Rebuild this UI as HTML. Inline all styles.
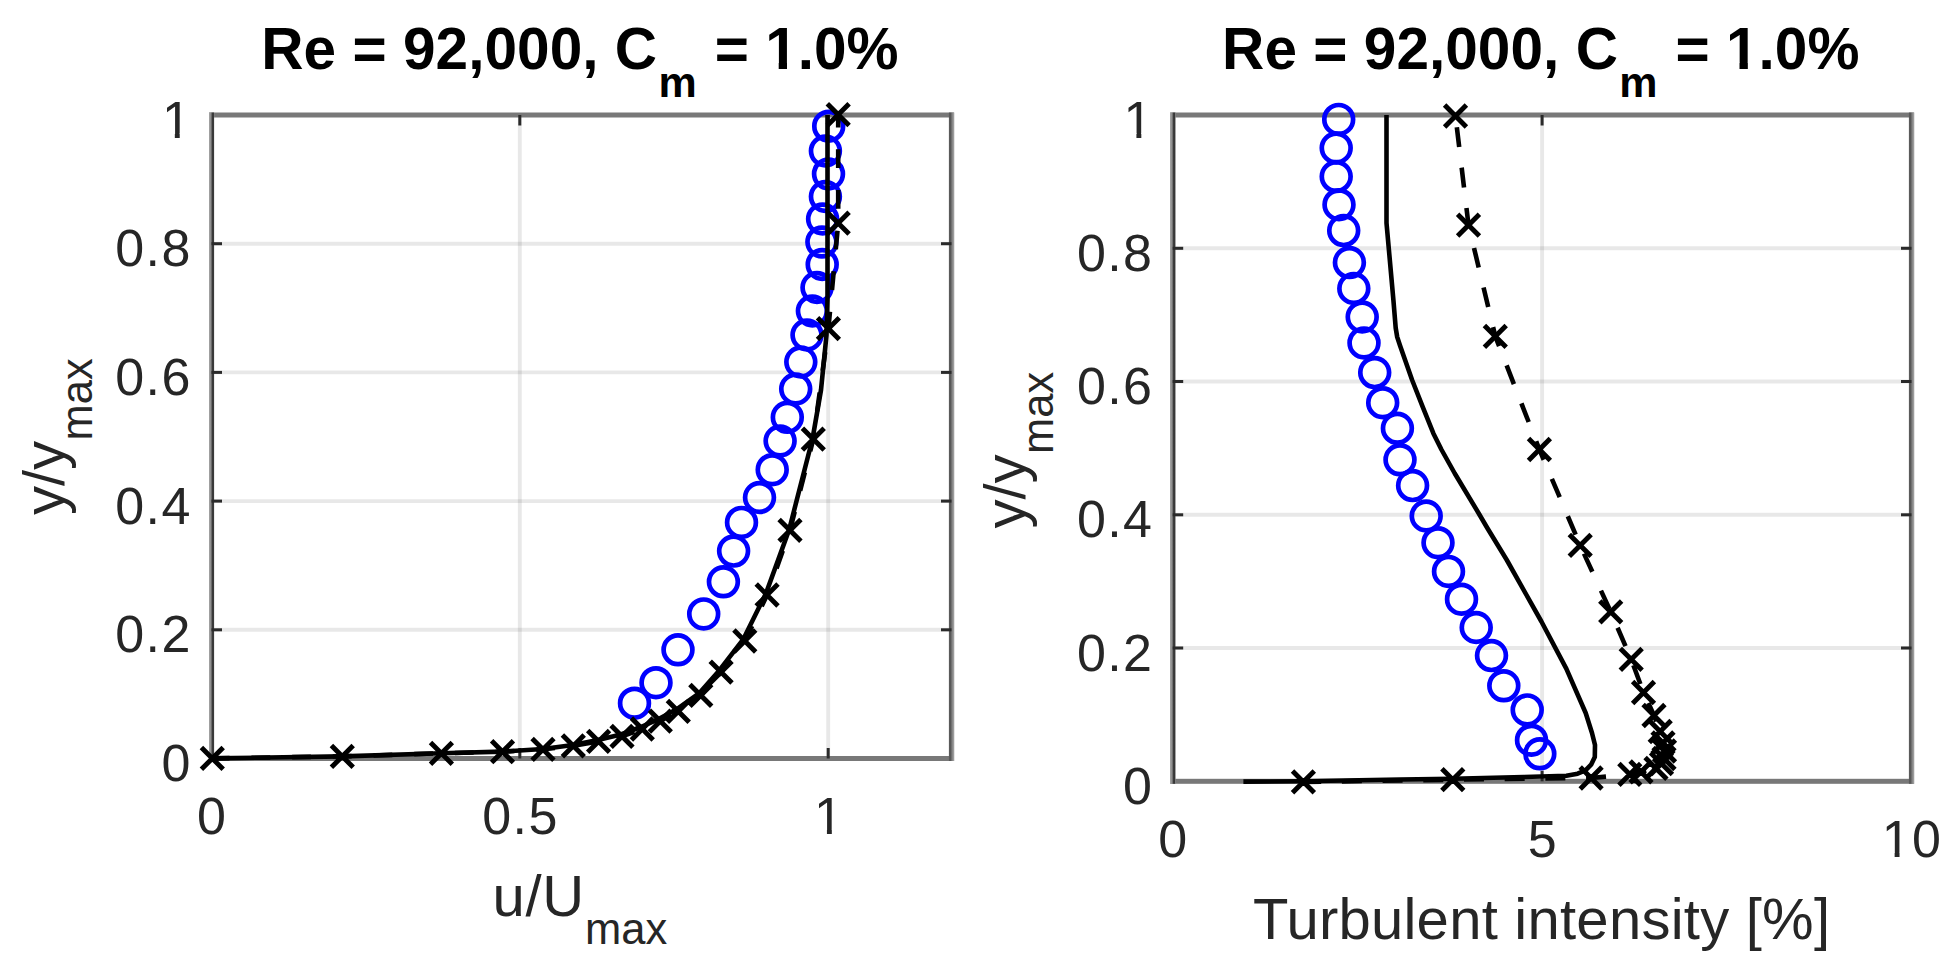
<!DOCTYPE html>
<html lang="en"><head><meta charset="utf-8"><title>Re = 92,000, Cm = 1.0%</title>
<style>html,body{margin:0;padding:0;background:#fff;overflow:hidden}svg{display:block}text{font-family:"Liberation Sans",Arial,Helvetica,sans-serif}.t{fill:#262626;font-size:52px}.l{fill:#262626;font-size:58px}.s{fill:#262626;font-size:43.5px}.h{fill:#000;font-weight:bold;font-size:58.5px}.hs{fill:#000;font-weight:bold;font-size:43px}</style></head><body>
<svg width="1957" height="974" viewBox="0 0 1957 974">
<rect width="1957" height="974" fill="#fff"/>
<defs><linearGradient id="gl" x1="0" y1="0" x2="1" y2="0"><stop offset="0" stop-color="#a6a6a6"/><stop offset="0.3" stop-color="#909090"/><stop offset="0.5" stop-color="#666"/><stop offset="0.62" stop-color="#3a3a3a"/><stop offset="0.86" stop-color="#363636"/><stop offset="1" stop-color="#9a9a9a"/></linearGradient><linearGradient id="gr" x1="0" y1="0" x2="1" y2="0"><stop offset="0" stop-color="#5a5a5a"/><stop offset="0.3" stop-color="#585858"/><stop offset="0.55" stop-color="#7a7a7a"/><stop offset="0.78" stop-color="#969696"/><stop offset="1" stop-color="#a8a8a8"/></linearGradient><clipPath id="c1"><path d="M-6 -70H50V-4.23H17.82V4H12.93V-4.23H-6Z"/></clipPath><clipPath id="c1b"><path d="M-6 -80H60V-6.32H21.83V4H13.50V-6.32H-6Z"/></clipPath></defs>
<g id="left">
<line x1="519.8" y1="115.0" x2="519.8" y2="758.5" stroke="#000" stroke-opacity="0.09" stroke-width="3.9"/>
<line x1="828.2" y1="115.0" x2="828.2" y2="758.5" stroke="#000" stroke-opacity="0.09" stroke-width="3.9"/>
<line x1="211.5" y1="629.8" x2="951.5" y2="629.8" stroke="#000" stroke-opacity="0.09" stroke-width="3.9"/>
<line x1="211.5" y1="501.1" x2="951.5" y2="501.1" stroke="#000" stroke-opacity="0.09" stroke-width="3.9"/>
<line x1="211.5" y1="372.4" x2="951.5" y2="372.4" stroke="#000" stroke-opacity="0.09" stroke-width="3.9"/>
<line x1="211.5" y1="243.7" x2="951.5" y2="243.7" stroke="#000" stroke-opacity="0.09" stroke-width="3.9"/>
<rect x="209.0" y="112.5" width="745.0" height="5" fill="#787878"/>
<rect x="209.0" y="756.0" width="745.0" height="5" fill="#787878"/>
<rect x="209.0" y="112.5" width="5.2" height="648.5" fill="url(#gl)"/>
<rect x="948.9" y="112.5" width="5.4" height="648.5" fill="url(#gr)"/>
<line x1="519.8" y1="758.5" x2="519.8" y2="748.0" stroke="#2a2a2a" stroke-width="3.0"/>
<line x1="519.8" y1="115.0" x2="519.8" y2="125.5" stroke="#2a2a2a" stroke-width="3.0"/>
<line x1="828.2" y1="758.5" x2="828.2" y2="748.0" stroke="#2a2a2a" stroke-width="3.0"/>
<line x1="828.2" y1="115.0" x2="828.2" y2="125.5" stroke="#2a2a2a" stroke-width="3.0"/>
<line x1="211.5" y1="629.8" x2="222.0" y2="629.8" stroke="#2a2a2a" stroke-width="3.0"/>
<line x1="951.5" y1="629.8" x2="941.0" y2="629.8" stroke="#2a2a2a" stroke-width="3.0"/>
<line x1="211.5" y1="501.1" x2="222.0" y2="501.1" stroke="#2a2a2a" stroke-width="3.0"/>
<line x1="951.5" y1="501.1" x2="941.0" y2="501.1" stroke="#2a2a2a" stroke-width="3.0"/>
<line x1="211.5" y1="372.4" x2="222.0" y2="372.4" stroke="#2a2a2a" stroke-width="3.0"/>
<line x1="951.5" y1="372.4" x2="941.0" y2="372.4" stroke="#2a2a2a" stroke-width="3.0"/>
<line x1="211.5" y1="243.7" x2="222.0" y2="243.7" stroke="#2a2a2a" stroke-width="3.0"/>
<line x1="951.5" y1="243.7" x2="941.0" y2="243.7" stroke="#2a2a2a" stroke-width="3.0"/>
<g fill="none" stroke="#0000ff" stroke-width="4.7">
<circle cx="828.7" cy="126.2" r="14.4"/>
<circle cx="825.4" cy="151.0" r="14.4"/>
<circle cx="828.5" cy="173.9" r="14.4"/>
<circle cx="825.4" cy="196.5" r="14.4"/>
<circle cx="822.6" cy="219.0" r="14.4"/>
<circle cx="821.9" cy="242.0" r="14.4"/>
<circle cx="822.2" cy="264.5" r="14.4"/>
<circle cx="817.0" cy="287.5" r="14.4"/>
<circle cx="812.4" cy="311.0" r="14.4"/>
<circle cx="807.0" cy="335.0" r="14.4"/>
<circle cx="800.8" cy="362.0" r="14.4"/>
<circle cx="795.7" cy="389.0" r="14.4"/>
<circle cx="787.3" cy="417.3" r="14.4"/>
<circle cx="780.1" cy="441.0" r="14.4"/>
<circle cx="772.2" cy="469.7" r="14.4"/>
<circle cx="759.5" cy="497.5" r="14.4"/>
<circle cx="741.5" cy="522.4" r="14.4"/>
<circle cx="733.6" cy="551.1" r="14.4"/>
<circle cx="723.4" cy="581.8" r="14.4"/>
<circle cx="703.7" cy="613.9" r="14.4"/>
<circle cx="678.0" cy="649.8" r="14.4"/>
<circle cx="656.0" cy="682.7" r="14.4"/>
<circle cx="634.5" cy="703.2" r="14.4"/>
</g>
<path d="M827.5 115.0L827.5 300.0L826.5 335.0L821.0 390.0L812.6 438.5L789.2 529.5L765.9 593.6L743.2 639.4L719.3 670.4L699.0 693.4L676.6 709.3L658.7 719.1L640.9 727.0L620.9 734.5L597.9 739.9L573.0 745.0L543.0 749.0L502.5 751.6L441.4 753.3L342.3 756.4L212.3 758.4" fill="none" stroke="#000" stroke-width="4.6" stroke-linejoin="round"/>
<path d="M838.2 114.7L838.2 223.2L828.4 328.6L813.3 439.2L790.0 530.3L767.1 595.0L744.8 641.0L721.1 672.2L700.8 695.4L678.3 711.3L660.3 721.1L642.3 729.0L622.0 736.3L598.6 741.3L573.3 745.8L543.0 749.3L502.5 751.7L441.4 753.3L342.3 756.4L212.3 758.4" fill="none" stroke="#000" stroke-width="4.6" stroke-dasharray="18.8 21.9" stroke-dashoffset="6.1" stroke-linejoin="round"/>
<path d="M827.3 103.8L849.1 125.6M827.3 125.6L849.1 103.8M827.3 212.3L849.1 234.1M827.3 234.1L849.1 212.3M817.5 317.7L839.3 339.5M817.5 339.5L839.3 317.7M802.4 428.3L824.2 450.1M802.4 450.1L824.2 428.3M779.1 519.4L800.9 541.2M779.1 541.2L800.9 519.4M756.2 584.1L778.0 605.9M756.2 605.9L778.0 584.1M733.9 630.1L755.7 651.9M733.9 651.9L755.7 630.1M710.2 661.3L732.0 683.1M710.2 683.1L732.0 661.3M689.9 684.5L711.7 706.3M689.9 706.3L711.7 684.5M667.4 700.4L689.2 722.2M667.4 722.2L689.2 700.4M649.4 710.2L671.2 732.0M649.4 732.0L671.2 710.2M631.4 718.1L653.2 739.9M631.4 739.9L653.2 718.1M611.1 725.4L632.9 747.2M611.1 747.2L632.9 725.4M587.7 730.4L609.5 752.2M587.7 752.2L609.5 730.4M562.4 734.9L584.2 756.7M562.4 756.7L584.2 734.9M532.1 738.4L553.9 760.2M532.1 760.2L553.9 738.4M491.6 740.8L513.4 762.6M491.6 762.6L513.4 740.8M430.5 742.4L452.3 764.2M430.5 764.2L452.3 742.4M331.4 745.5L353.2 767.3M331.4 767.3L353.2 745.5M201.4 747.5L223.2 769.3M201.4 769.3L223.2 747.5" fill="none" stroke="#000" stroke-width="4.9"/>
</g>
<g id="right">
<line x1="1542.1" y1="115.0" x2="1542.1" y2="781.3" stroke="#000" stroke-opacity="0.09" stroke-width="3.9"/>
<line x1="1172.7" y1="648.0" x2="1911.5" y2="648.0" stroke="#000" stroke-opacity="0.09" stroke-width="3.9"/>
<line x1="1172.7" y1="514.8" x2="1911.5" y2="514.8" stroke="#000" stroke-opacity="0.09" stroke-width="3.9"/>
<line x1="1172.7" y1="381.5" x2="1911.5" y2="381.5" stroke="#000" stroke-opacity="0.09" stroke-width="3.9"/>
<line x1="1172.7" y1="248.3" x2="1911.5" y2="248.3" stroke="#000" stroke-opacity="0.09" stroke-width="3.9"/>
<rect x="1170.2" y="112.5" width="743.8" height="5" fill="#787878"/>
<rect x="1170.2" y="778.8" width="743.8" height="5" fill="#787878"/>
<rect x="1170.0" y="112.5" width="5.7" height="671.3" fill="url(#gl)"/>
<rect x="1908.9" y="112.5" width="5.4" height="671.3" fill="url(#gr)"/>
<line x1="1542.1" y1="781.3" x2="1542.1" y2="770.8" stroke="#2a2a2a" stroke-width="3.0"/>
<line x1="1542.1" y1="115.0" x2="1542.1" y2="125.5" stroke="#2a2a2a" stroke-width="3.0"/>
<line x1="1172.7" y1="648.0" x2="1183.2" y2="648.0" stroke="#2a2a2a" stroke-width="3.0"/>
<line x1="1911.5" y1="648.0" x2="1901.0" y2="648.0" stroke="#2a2a2a" stroke-width="3.0"/>
<line x1="1172.7" y1="514.8" x2="1183.2" y2="514.8" stroke="#2a2a2a" stroke-width="3.0"/>
<line x1="1911.5" y1="514.8" x2="1901.0" y2="514.8" stroke="#2a2a2a" stroke-width="3.0"/>
<line x1="1172.7" y1="381.5" x2="1183.2" y2="381.5" stroke="#2a2a2a" stroke-width="3.0"/>
<line x1="1911.5" y1="381.5" x2="1901.0" y2="381.5" stroke="#2a2a2a" stroke-width="3.0"/>
<line x1="1172.7" y1="248.3" x2="1183.2" y2="248.3" stroke="#2a2a2a" stroke-width="3.0"/>
<line x1="1911.5" y1="248.3" x2="1901.0" y2="248.3" stroke="#2a2a2a" stroke-width="3.0"/>
<g fill="none" stroke="#0000ff" stroke-width="4.7">
<circle cx="1338.7" cy="119.4" r="14.4"/>
<circle cx="1336.2" cy="148.0" r="14.4"/>
<circle cx="1336.2" cy="176.6" r="14.4"/>
<circle cx="1339.0" cy="204.7" r="14.4"/>
<circle cx="1343.7" cy="230.6" r="14.4"/>
<circle cx="1349.4" cy="262.6" r="14.4"/>
<circle cx="1353.8" cy="288.5" r="14.4"/>
<circle cx="1362.2" cy="317.0" r="14.4"/>
<circle cx="1364.0" cy="342.9" r="14.4"/>
<circle cx="1374.7" cy="372.6" r="14.4"/>
<circle cx="1382.7" cy="402.7" r="14.4"/>
<circle cx="1397.4" cy="428.3" r="14.4"/>
<circle cx="1400.0" cy="459.8" r="14.4"/>
<circle cx="1412.6" cy="485.6" r="14.4"/>
<circle cx="1426.2" cy="516.0" r="14.4"/>
<circle cx="1438.0" cy="542.7" r="14.4"/>
<circle cx="1448.5" cy="571.4" r="14.4"/>
<circle cx="1461.5" cy="599.2" r="14.4"/>
<circle cx="1476.2" cy="627.5" r="14.4"/>
<circle cx="1491.5" cy="655.6" r="14.4"/>
<circle cx="1503.8" cy="685.8" r="14.4"/>
<circle cx="1527.2" cy="709.9" r="14.4"/>
<circle cx="1531.5" cy="740.2" r="14.4"/>
<circle cx="1539.8" cy="753.8" r="14.4"/>
</g>
<path d="M1386.5 115.0L1386.5 223.0L1393.4 300.0L1395.7 328.0L1397.2 337.0L1400.0 345.4L1412.1 380.0L1422.7 406.8L1433.4 433.4L1441.4 449.5L1454.8 473.5L1478.8 513.5L1487.3 528.0L1506.8 560.0L1541.4 621.5L1566.3 668.6L1585.7 713.0L1592.0 733.0L1595.0 745.0L1594.8 757.0L1591.1 764.7L1585.5 770.4L1577.6 773.7L1566.4 775.8L1523.7 777.0L1452.8 778.8L1400.0 779.5L1303.4 781.3L1243.4 781.6" fill="none" stroke="#000" stroke-width="4.6" stroke-linejoin="round"/>
<path d="M1455.5 116.0L1468.5 225.1L1495.3 336.3L1539.4 449.5L1580.2 545.4L1610.7 611.8L1631.2 659.3L1643.5 692.5L1654.0 715.5L1660.2 731.5L1663.0 742.8L1664.5 751.0L1664.0 758.5L1661.5 763.7L1656.0 768.4L1641.0 771.9L1629.8 774.4L1591.1 778.0L1452.8 779.7L1303.4 781.9" fill="none" stroke="#000" stroke-width="4.6" stroke-dasharray="20.0 20.7" stroke-dashoffset="29.4" stroke-linejoin="round"/>
<path d="M1444.6 105.1L1466.4 126.9M1444.6 126.9L1466.4 105.1M1457.6 214.2L1479.4 236.0M1457.6 236.0L1479.4 214.2M1484.4 325.4L1506.2 347.2M1484.4 347.2L1506.2 325.4M1528.5 438.6L1550.3 460.4M1528.5 460.4L1550.3 438.6M1569.3 534.5L1591.1 556.3M1569.3 556.3L1591.1 534.5M1599.8 600.9L1621.6 622.7M1599.8 622.7L1621.6 600.9M1620.3 648.4L1642.1 670.2M1620.3 670.2L1642.1 648.4M1632.6 681.6L1654.4 703.4M1632.6 703.4L1654.4 681.6M1643.1 704.6L1664.9 726.4M1643.1 726.4L1664.9 704.6M1649.3 720.6L1671.1 742.4M1649.3 742.4L1671.1 720.6M1652.1 731.9L1673.9 753.7M1652.1 753.7L1673.9 731.9M1653.6 740.1L1675.4 761.9M1653.6 761.9L1675.4 740.1M1653.1 747.6L1674.9 769.4M1653.1 769.4L1674.9 747.6M1650.6 752.8L1672.4 774.6M1650.6 774.6L1672.4 752.8M1645.1 757.5L1666.9 779.3M1645.1 779.3L1666.9 757.5M1630.1 761.0L1651.9 782.8M1630.1 782.8L1651.9 761.0M1618.9 763.5L1640.7 785.3M1618.9 785.3L1640.7 763.5M1580.2 767.1L1602.0 788.9M1580.2 788.9L1602.0 767.1M1441.9 768.8L1463.7 790.6M1441.9 790.6L1463.7 768.8M1292.5 771.0L1314.3 792.8M1292.5 792.8L1314.3 771.0" fill="none" stroke="#000" stroke-width="4.9"/>
</g>
<g id="labels">
<text class="t" x="190.4" y="781.0" text-anchor="end" letter-spacing="0">0</text>
<text class="t" x="191.8" y="652.3" text-anchor="end" letter-spacing="1.4">0.2</text>
<text class="t" x="191.8" y="523.6" text-anchor="end" letter-spacing="1.4">0.4</text>
<text class="t" x="191.8" y="394.9" text-anchor="end" letter-spacing="1.4">0.6</text>
<text class="t" x="191.8" y="266.2" text-anchor="end" letter-spacing="1.4">0.8</text>
<g transform="translate(161.9,137.5)" clip-path="url(#c1)"><text class="t" x="0" y="0">1</text></g>
<text class="t" x="1152.0" y="803.8" text-anchor="end" letter-spacing="0">0</text>
<text class="t" x="1153.4" y="670.5" text-anchor="end" letter-spacing="1.4">0.2</text>
<text class="t" x="1153.4" y="537.3" text-anchor="end" letter-spacing="1.4">0.4</text>
<text class="t" x="1153.4" y="404.0" text-anchor="end" letter-spacing="1.4">0.6</text>
<text class="t" x="1153.4" y="270.8" text-anchor="end" letter-spacing="1.4">0.8</text>
<g transform="translate(1123.5,137.5)" clip-path="url(#c1)"><text class="t" x="0" y="0">1</text></g>
<text class="t" x="211.5" y="834.0" text-anchor="middle" letter-spacing="0">0</text>
<text class="t" x="520.5" y="834.0" text-anchor="middle" letter-spacing="1.4">0.5</text>
<g transform="translate(814.0,834.0)" clip-path="url(#c1)"><text class="t" x="0" y="0">1</text></g>
<text class="t" x="1172.7" y="857.0" text-anchor="middle">0</text>
<text class="t" x="1542.1" y="857.0" text-anchor="middle">5</text>
<g transform="translate(1881.7,857.0)" clip-path="url(#c1)"><text class="t" x="0" y="0">1</text></g>
<text class="t" x="1912.0" y="857.0">0</text>
<text class="l" x="492.6" y="915.5" letter-spacing="0.6">u/U</text><text class="s" x="585" y="943.5">max</text>
<text class="l" x="1541.6" y="938.5" text-anchor="middle" letter-spacing="0.25">Turbulent intensity [%]</text>
<g transform="translate(63.5,515) rotate(-90)"><text class="l" x="0" y="0">y/y</text><text class="s" x="74.6" y="28.3">max</text></g>
<g transform="translate(1025.1,528.6) rotate(-90)"><text class="l" x="0" y="0">y/y</text><text class="s" x="74.6" y="28.3">max</text></g>
<text class="h" x="261.3" y="69" letter-spacing="0.05">Re = 92,000, C</text><text class="hs" x="658.5" y="97">m</text><text class="h" x="714.8" y="69">=</text>
<g transform="translate(765.2,69.0)" clip-path="url(#c1b)"><text class="h" x="0" y="0">1</text></g>
<text class="h" x="797.8" y="69">.0%</text>
<text class="h" x="1222.1" y="69" letter-spacing="0.05">Re = 92,000, C</text><text class="hs" x="1619.3" y="97">m</text><text class="h" x="1675.6" y="69">=</text>
<g transform="translate(1726.0,69.0)" clip-path="url(#c1b)"><text class="h" x="0" y="0">1</text></g>
<text class="h" x="1758.6" y="69">.0%</text>
</g>
</svg></body></html>
